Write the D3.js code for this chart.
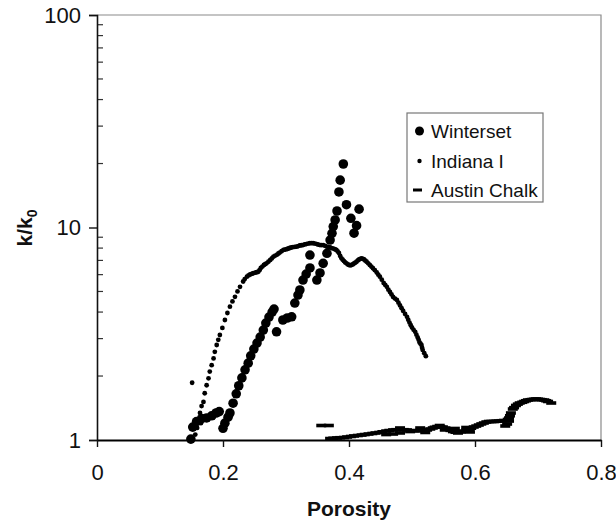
<!DOCTYPE html>
<html>
<head>
<meta charset="utf-8">
<script src="https://cdn.jsdelivr.net/npm/d3@7"></script>
<style>
  html, body { margin: 0; padding: 0; background: #fff; }
  svg { display: block; font-family: "Liberation Sans", Arial, sans-serif; }
</style>
</head>
<body>
<svg id="chart" width="616" height="531"></svg>
<script>
// Tick values
const xTicks = [0, 0.2, 0.4, 0.6, 0.8];
const yTicks = [1, 10, 100];

// Winterset (large dots)
const winterPor = [0.149, 0.152, 0.158, 0.166, 0.174, 0.182, 0.189, 0.194,
  0.200, 0.203, 0.208, 0.211, 0.216, 0.221, 0.225, 0.230, 0.235, 0.240, 0.244,
  0.249, 0.254, 0.259, 0.264, 0.268, 0.273, 0.278, 0.281,
  0.285, 0.295, 0.302, 0.309, 0.314, 0.319, 0.322, 0.327, 0.332, 0.338, 0.338,
  0.349, 0.354, 0.359, 0.365, 0.370, 0.373, 0.375, 0.378, 0.381, 0.384, 0.386, 0.391,
  0.396, 0.416, 0.403, 0.412, 0.408];
const winterK = [1.01, 1.15, 1.22, 1.26, 1.27, 1.30, 1.34, 1.36,
  1.135, 1.20, 1.28, 1.34, 1.49, 1.65, 1.80, 1.96, 2.14, 2.30, 2.49,
  2.68, 2.86, 3.05, 3.29, 3.55, 3.79, 4.00, 4.13,
  3.23, 3.67, 3.75, 3.80, 4.41, 4.81, 5.08, 5.66, 6.04, 6.45, 7.42,
  5.66, 6.11, 6.78, 7.56, 8.73, 9.39, 10.1, 10.85, 11.96, 14.7, 16.7, 19.9,
  12.8, 12.2, 11.05, 10.2, 9.4];

// Indiana I (small dots)
const indianaPor = [0.151, 0.156, 0.159, 0.162, 0.165, 0.175, 0.185,
  0.1635, 0.166, 0.169, 0.171, 0.174, 0.177, 0.179, 0.182, 0.185, 0.187, 0.190,
  0.1925, 0.195, 0.199, 0.203, 0.207, 0.211, 0.215, 0.219, 0.223, 0.227, 0.232,
  0.238, 0.243, 0.248, 0.252, 0.256, 0.260, 0.265, 0.269, 0.275, 0.280, 0.286,
  0.290, 0.296, 0.302, 0.306, 0.311, 0.317, 0.322, 0.327, 0.332, 0.338, 0.343,
  0.349, 0.354, 0.359, 0.365, 0.370, 0.375, 0.380, 0.384, 0.388, 0.392, 0.396,
  0.400, 0.404, 0.408, 0.412, 0.416, 0.420, 0.424, 0.428, 0.433, 0.438, 0.444,
  0.449, 0.455, 0.460, 0.465, 0.470, 0.476, 0.481, 0.486, 0.492, 0.496, 0.500,
  0.505, 0.509, 0.512, 0.515, 0.517, 0.522,
  0.2345, 0.2405, 0.2455, 0.254, 0.258, 0.2625, 0.267, 0.272, 0.2775, 0.283,
  0.288, 0.293, 0.299, 0.304, 0.3085, 0.314, 0.3195, 0.3245, 0.3295, 0.335,
  0.3405, 0.346, 0.3515, 0.3565, 0.362, 0.3675, 0.3725, 0.3775, 0.382, 0.386,
  0.390, 0.394, 0.398, 0.402, 0.406, 0.410, 0.414, 0.418, 0.422, 0.426,
  0.4305, 0.4355, 0.441, 0.4465, 0.452, 0.4575, 0.4625, 0.4675, 0.473, 0.4785,
  0.4835, 0.489, 0.494, 0.498, 0.5025, 0.507, 0.5105, 0.5135, 0.516, 0.5195];
const indianaK = [1.86, 1.06, 1.14, 1.24, 1.20, 1.25, 1.28,
  1.34, 1.445, 1.51, 1.66, 1.81, 1.95, 2.10, 2.25, 2.42, 2.60, 2.80,
  2.96, 3.12, 3.37, 3.67, 3.96, 4.24, 4.49, 4.72, 5.00, 5.26, 5.57,
  5.87, 6.01, 6.09, 6.14, 6.19, 6.45, 6.66, 6.78, 7.03, 7.29, 7.46,
  7.62, 7.84, 7.92, 8.01, 8.09, 8.12, 8.23, 8.27, 8.36, 8.43, 8.43,
  8.36, 8.27, 8.27, 8.12, 8.05, 7.96, 7.84, 7.59, 7.16, 6.95, 6.78,
  6.66, 6.66, 6.77, 6.90, 7.07, 7.16, 7.07, 6.90, 6.66, 6.43, 6.14,
  5.87, 5.48, 5.26, 4.97, 4.71, 4.56, 4.30, 4.05, 3.80, 3.57, 3.38,
  3.23, 3.04, 2.88, 2.80, 2.65, 2.48,
  5.72, 5.95, 6.05, 6.16, 6.30, 6.55, 6.72, 6.90, 7.15, 7.38,
  7.55, 7.73, 7.88, 7.97, 8.05, 8.10, 8.18, 8.25, 8.32, 8.40,
  8.45, 8.40, 8.30, 8.27, 8.20, 8.08, 8.00, 7.90, 7.72, 7.35,
  7.05, 6.85, 6.70, 6.64, 6.70, 6.83, 7.00, 7.12, 7.12, 6.98,
  6.78, 6.55, 6.30, 6.00, 5.68, 5.37, 5.10, 4.84, 4.63, 4.43,
  4.17, 3.92, 3.68, 3.47, 3.30, 3.13, 2.96, 2.84, 2.72, 2.56];

// Austin Chalk (dashes)
const austinPor = [0.356, 0.368,
  0.370, 0.381, 0.392, 0.403, 0.414, 0.425, 0.437, 0.448, 0.459, 0.459,
  0.470, 0.470, 0.481, 0.481, 0.492, 0.497, 0.503, 0.513, 0.524, 0.533,
  0.540, 0.549, 0.557, 0.565, 0.573, 0.581, 0.591, 0.598, 0.606, 0.614,
  0.622, 0.630, 0.638, 0.646, 0.651, 0.654, 0.657, 0.660, 0.665, 0.671,
  0.678, 0.684, 0.691, 0.697, 0.703, 0.710, 0.716, 0.721,
  0.481, 0.513, 0.544, 0.568, 0.586, 0.521, 0.552, 0.592, 0.648, 0.654,
  0.375, 0.386, 0.397, 0.408, 0.420, 0.431, 0.442, 0.453, 0.464, 0.475,
  0.487, 0.508, 0.518, 0.529, 0.536, 0.545, 0.553, 0.561, 0.569, 0.577,
  0.586, 0.594, 0.602, 0.610, 0.618, 0.626, 0.634, 0.642, 0.668, 0.675,
  0.681, 0.688, 0.694, 0.700, 0.706, 0.713, 0.662, 0.6555, 0.652];
const austinK = [1.170, 1.170,
  1.016, 1.022, 1.027, 1.039, 1.050, 1.061, 1.073, 1.085, 1.102, 1.061,
  1.115, 1.067, 1.121, 1.079, 1.115, 1.096, 1.108, 1.108, 1.115, 1.139,
  1.157, 1.151, 1.127, 1.096, 1.079, 1.102, 1.121, 1.151, 1.176, 1.202,
  1.222, 1.222, 1.228, 1.235, 1.189, 1.269, 1.340, 1.399, 1.454, 1.493,
  1.518, 1.542, 1.551, 1.559, 1.551, 1.542, 1.518, 1.493,
  1.139, 1.139, 1.170, 1.133, 1.145, 1.085, 1.115, 1.091, 1.164, 1.228,
  1.019, 1.025, 1.033, 1.045, 1.055, 1.067, 1.079, 1.093, 1.108, 1.118,
  1.118, 1.104, 1.112, 1.127, 1.148, 1.155, 1.139, 1.110, 1.088, 1.090,
  1.112, 1.136, 1.163, 1.190, 1.215, 1.222, 1.225, 1.232, 1.475, 1.505,
  1.530, 1.547, 1.555, 1.555, 1.547, 1.530, 1.420, 1.300, 1.250];

const seriesNames = ["Winterset", "Indiana I", "Austin Chalk"];

const svg = d3.select("#chart");
const plotL = 97, plotR = 601, plotT = 15, plotB = 440;

const x = d3.scaleLinear().domain([0, 0.8]).range([plotL, plotR]);
const y = d3.scaleLog().domain([1, 100]).range([plotB, plotT]);

// plot frame (top and right edges)
svg.append("path")
  .attr("d", `M${plotL},${plotT}H${plotR}V${plotB}`)
  .attr("fill", "none").attr("stroke", "#8a8a8a").attr("stroke-width", 1.2);

// minor y ticks (inside)
const minor = [];
[1, 10].forEach(d => { for (let m = 2; m <= 9; m++) minor.push(d * m); });
svg.append("g").selectAll("line").data(minor).join("line")
  .attr("x1", plotL).attr("x2", plotL + 6)
  .attr("y1", d => y(d)).attr("y2", d => y(d))
  .attr("stroke", "#333").attr("stroke-width", 1.2);

// y axis
const yAxis = svg.append("g").attr("transform", `translate(${plotL},0)`)
  .call(d3.axisLeft(y).tickValues(yTicks).tickFormat(d3.format("d")).tickSize(8).tickPadding(8));
yAxis.select(".domain").attr("stroke", "#111").attr("stroke-width", 1.6);
yAxis.selectAll(".tick line").attr("stroke", "#111").attr("stroke-width", 1.4);
yAxis.selectAll(".tick text").attr("font-size", 22).attr("fill", "#111")
  .attr("font-family", "Liberation Sans, Arial, sans-serif");

// x axis
const xAxis = svg.append("g").attr("transform", `translate(0,${plotB})`)
  .call(d3.axisBottom(x).tickValues(xTicks).tickFormat(d => d === 0 ? "0" : d3.format(".1f")(d)).tickSizeInner(7).tickSizeOuter(0).tickPadding(17));
xAxis.select(".domain").attr("stroke", "#000").attr("stroke-width", 2.2);
xAxis.selectAll(".tick line").attr("stroke", "#111").attr("stroke-width", 1.4);
xAxis.selectAll(".tick text").attr("font-size", 22).attr("fill", "#111")
  .attr("font-family", "Liberation Sans, Arial, sans-serif");

// axis titles
svg.append("text").attr("x", 349).attr("y", 516).attr("text-anchor", "middle")
  .attr("font-size", 21).attr("font-weight", "bold").attr("fill", "#111").text("Porosity");

const yt = svg.append("text").attr("transform", "translate(32,228) rotate(-90)")
  .attr("text-anchor", "middle").attr("font-size", 21).attr("font-weight", "bold").attr("fill", "#111");
yt.append("tspan").text("k/k");
yt.append("tspan").attr("font-size", 14).attr("dy", 5).text("0");

// data marks
const plot = svg.append("g");

plot.append("g").selectAll("rect").data(austinPor.map((p, i) => [p, austinK[i]])).join("rect")
  .attr("x", d => x(d[0]) - 5).attr("y", d => y(d[1]) - 1.8)
  .attr("width", 10).attr("height", 3.6).attr("fill", "#000");

plot.append("g").selectAll("circle").data(winterPor.map((p, i) => [p, winterK[i]])).join("circle")
  .attr("cx", d => x(d[0])).attr("cy", d => y(d[1])).attr("r", 4.8).attr("fill", "#000");

plot.append("g").selectAll("circle").data(indianaPor.map((p, i) => [p, indianaK[i]])).join("circle")
  .attr("cx", d => x(d[0])).attr("cy", d => y(d[1])).attr("r", 2.4).attr("fill", "#000");

// legend
const lg = svg.append("g");
lg.append("rect").attr("x", 407).attr("y", 113).attr("width", 136).attr("height", 89)
  .attr("fill", "#fff").attr("stroke", "#777").attr("stroke-width", 1.2);
const rowsY = [131, 161, 190];
lg.append("circle").attr("cx", 419.5).attr("cy", rowsY[0]).attr("r", 4.5).attr("fill", "#000");
lg.append("circle").attr("cx", 419.5).attr("cy", rowsY[1]).attr("r", 2.2).attr("fill", "#000");
lg.append("rect").attr("x", 413).attr("y", rowsY[2] - 1.5).attr("width", 9).attr("height", 3).attr("fill", "#000");
lg.selectAll("text").data(seriesNames).join("text")
  .attr("x", 431).attr("y", (d, i) => rowsY[i]).attr("dy", "0.35em")
  .attr("font-size", 19).attr("fill", "#111").text(d => d);
</script>
</body>
</html>
